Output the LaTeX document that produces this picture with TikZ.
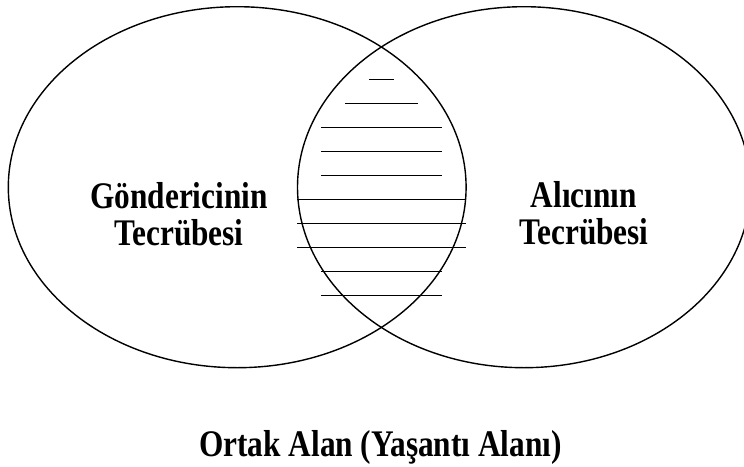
\documentclass[tikz,border=0pt]{standalone}
\usepackage{fontspec}
\setmainfont{Liberation Serif}
\usepackage{graphicx}
\tikzset{
  venn/.style={line width=1.4pt, draw=black},
  hatchline/.style={line width=1.6pt, draw=black},
  lbl/.style={inner sep=0pt, font=\bfseries\fontsize{31.3}{30}\selectfont}
}
\begin{document}
\begin{tikzpicture}[x=1pt,y=-1pt]
\useasboundingbox (0,0) rectangle (744,466);
\clip (0,0) rectangle (744,466);
% two experience fields
\draw[venn] (237.2,187.2) ellipse [x radius=228.9, y radius=180.5];
\draw[venn] (524,187.2) ellipse [x radius=226.5, y radius=180.5];
% hatching of the common area
\draw[hatchline] (369.3,79.3) -- (394,79.3);
\draw[hatchline] (345.3,103.3) -- (418,103.3);
\draw[hatchline] (321.3,127.3) -- (442,127.3);
\draw[hatchline] (321.3,151.3) -- (442,151.3);
\draw[hatchline] (321.3,175.3) -- (442,175.3);
\draw[hatchline] (297.3,199.3) -- (466,199.3);
\draw[hatchline] (297.3,223.3) -- (466,223.3);
\draw[hatchline] (297.3,247.3) -- (466,247.3);
\draw[hatchline] (321.3,271.3) -- (442,271.3);
\draw[hatchline] (321.3,295.3) -- (442,295.3);
% labels
\node[lbl, anchor=base] (gonderen) at (179,245)
  {\scalebox{1}[1.2]{\begin{tabular}[b]{@{}c@{}}Göndericinin\\Tecrübesi\hspace{11pt}\end{tabular}}};
\node[lbl, anchor=base] (alici) at (584,244)
  {\scalebox{1}[1.2]{\begin{tabular}[b]{@{}c@{}}Alıcının\\Tecrübesi\hspace{9pt}\end{tabular}}};
\node[lbl, anchor=base] (ortak) at (380.5,456)
  {\scalebox{1}[1.2]{Ortak Alan (Yaşantı Alanı)}};
\end{tikzpicture}
\end{document}
